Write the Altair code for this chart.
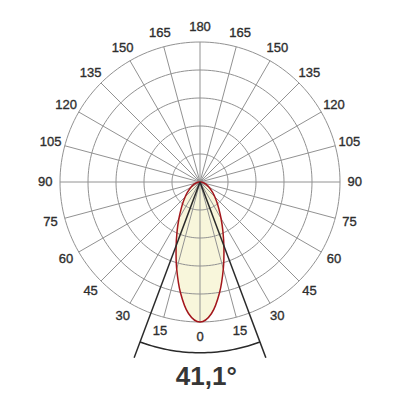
import altair as alt
import pandas as pd
import numpy as np

# ---- data ----
lobe_angles = [0, 5, 10, 15, 20, 25, 30, 35, 40, 45, 50, 60, 70, 80, 90]
lobe_intensity = [1.0, 0.943, 0.803, 0.643, 0.50, 0.387, 0.301, 0.236, 0.187, 0.149, 0.119, 0.075, 0.045, 0.021, 0.0]
ring_levels = [0.2, 0.4, 0.6, 0.8, 1.0]
spoke_angles = list(range(0, 360, 15))
label_angles = [0, 15, 30, 45, 60, 75, 90, 105, 120, 135, 150, 165, 180]
beam_angle = 41.1
beam_text = "41,1°"

# ---- tables ----
lobe_rows = []
for a, i in zip(reversed(lobe_angles), reversed(lobe_intensity)):
    lobe_rows.append({"a": -a, "r": i})
for a, i in zip(lobe_angles[1:], lobe_intensity[1:]):
    lobe_rows.append({"a": a, "r": i})
lobe_df = pd.DataFrame(lobe_rows)
lobe_df["o"] = range(len(lobe_df))

ring_df = pd.DataFrame([{"ring": r, "a": a, "r": r} for r in ring_levels for a in range(0, 361, 2)])
spoke_df = pd.DataFrame({"a": spoke_angles})

lab_rows = []
for a in label_angles:
    lab_rows.append({"a": -a, "t": str(a)})
    if a not in (0, 180):
        lab_rows.append({"a": a, "t": str(a)})
lab_df = pd.DataFrame(lab_rows)

half = beam_angle / 2
beam_df = pd.DataFrame({"a": [-half, half]})
arc_df = pd.DataFrame({"a": list(np.linspace(-half, half, 40))})
text_df = pd.DataFrame({"t": [beam_text]})

X = alt.Scale(domain=[-192 / 140, 192 / 140])
Y = alt.Scale(domain=[-210 / 140, 174 / 140])

def polar(chart, rexpr="datum.r", xname="x", yname="y"):
    return chart.transform_calculate(
        **{xname: f"({rexpr})*sin(datum.a*PI/180)", yname: f"-({rexpr})*cos(datum.a*PI/180)"}
    )

enc = dict(x=alt.X("x:Q", scale=X, axis=None), y=alt.Y("y:Q", scale=Y, axis=None))

lobe_fill = polar(alt.Chart(lobe_df).mark_line(
    fill="#f8f6db", stroke=None, interpolate="cardinal-closed")).encode(order="o:Q", **enc)

rings = polar(alt.Chart(ring_df).mark_line(color="#929292", strokeWidth=1)).encode(
    detail="ring:N", order="a:Q", **enc)

spokes = polar(alt.Chart(spoke_df).mark_rule(color="#929292", strokeWidth=1), rexpr="1").encode(
    x=alt.X("x0:Q", scale=X, axis=None), y=alt.Y("y0:Q", scale=Y, axis=None),
    x2="x:Q", y2="y:Q").transform_calculate(x0="0", y0="0")

lobe_line = polar(alt.Chart(lobe_df).mark_line(
    color="#a3161c", strokeWidth=1.5, interpolate="cardinal-closed")).encode(order="o:Q", **enc)

beams = polar(alt.Chart(beam_df).mark_rule(color="#2a2a2a", strokeWidth=1.5), rexpr="1.34").encode(
    x=alt.X("x0:Q", scale=X, axis=None), y=alt.Y("y0:Q", scale=Y, axis=None),
    x2="x:Q", y2="y:Q").transform_calculate(x0="0", y0="0")

arc = polar(alt.Chart(arc_df).mark_line(color="#2a2a2a", strokeWidth=1.5), rexpr="1.22").encode(
    order="a:Q", **enc)

labels = polar(alt.Chart(lab_df).mark_text(
    font="Liberation Sans", fontSize=13, color="#2e2e2e", stroke="#2e2e2e", strokeWidth=0.35,
    align="center", baseline="middle"),
    rexpr="1.105").encode(text="t:N", **enc)

big = alt.Chart(text_df).mark_text(
    font="Liberation Sans", fontSize=26, fontWeight="bold", color="#363636",
    align="center", baseline="middle").encode(
    x=alt.datum(0.045, scale=X), y=alt.datum(-1.393, scale=Y), text="t:N")

chart = alt.layer(lobe_fill, rings, spokes, lobe_line, beams, arc, labels, big).properties(
    width=384, height=384, padding=0, autosize=alt.AutoSizeParams(type="none"),
    background="white"
).configure_view(stroke=None)

chart.save("out.html", embed_options={"renderer": "svg", "actions": False})
